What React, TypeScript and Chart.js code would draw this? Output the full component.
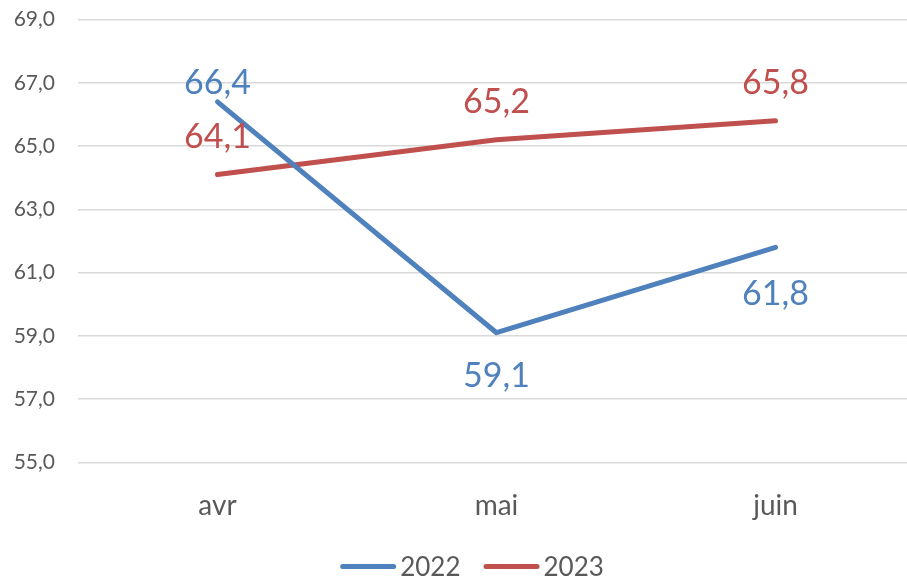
import React, { useEffect, useRef } from "react";
import { Chart, registerables } from "chart.js";

Chart.register(...registerables);

const categories = ["avr", "mai", "juin"];
const seriesNames = ["2022", "2023"];
const values2022 = [66.4, 59.1, 61.8];
const values2023 = [64.1, 65.2, 65.8];
const yTicks = [55, 57, 59, 61, 63, 65, 67, 69];

const BLUE = "#4F81BD";
const RED = "#C0504D";
const FONT = "Lato";
const SHIFT = 16;

const fmt = (v: number) => v.toFixed(1).replace(".", ",");

const dataLabelPlugin = {
  id: "dataLabels",
  afterDatasetsDraw(chart: any) {
    const ctx = chart.ctx;
    ctx.save();
    const size = 34;
    ctx.font = `${size}px ${FONT}`;
    ctx.textAlign = "center";
    ctx.textBaseline = "alphabetic";
    chart.data.datasets.forEach((ds: any, i: number) => {
      const meta = chart.getDatasetMeta(i);
      meta.data.forEach((pt: any, j: number) => {
        const off = ds.labelOffsets[j];
        ctx.fillStyle = ds.borderColor;
        ctx.fillText(fmt(ds.data[j]), pt.x, pt.y + off + size * 0.36);
      });
    });
    ctx.restore();
  },
};

const legendPlugin = {
  id: "customLegend",
  afterDraw(chart: any) {
    const ctx = chart.ctx;
    ctx.save();
    const size = 26;
    ctx.font = `${size}px ${FONT}`;
    const lineW = 56;
    const gapText = 4;
    const gapItem = 23;
    const items = chart.data.datasets.map((ds: any) => ({
      text: ds.label,
      color: ds.borderColor,
      w: lineW + gapText + ctx.measureText(ds.label).width,
    }));
    const total = items.reduce((a: number, it: any) => a + it.w, 0) + gapItem * (items.length - 1);
    const cx = 472;
    const cy = 566.5 + SHIFT;
    let x = cx - total / 2;
    items.forEach((it: any) => {
      ctx.strokeStyle = it.color;
      ctx.lineWidth = 5;
      ctx.lineCap = "round";
      ctx.beginPath();
      ctx.moveTo(x + 2.5, cy);
      ctx.lineTo(x + lineW - 2.5, cy);
      ctx.stroke();
      ctx.fillStyle = "#595959";
      ctx.textAlign = "left";
      ctx.textBaseline = "alphabetic";
      ctx.fillText(it.text, x + lineW + gapText, cy + size * 0.36);
      x += it.w + gapItem;
    });
    ctx.restore();
  },
};

export default function App() {
  const ref = useRef<HTMLCanvasElement>(null);
  useEffect(() => {
    document.body.style.margin = "0";
    document.body.style.overflow = "hidden";
    const canvas = ref.current!;
    const chart = new Chart(canvas, {
      type: "line",
      data: {
        labels: categories,
        datasets: [
          {
            label: seriesNames[0],
            data: values2022,
            borderColor: BLUE,
            backgroundColor: BLUE,
            borderWidth: 5,
            borderCapStyle: "round",
            borderJoinStyle: "round",
            pointRadius: 0,
            tension: 0,
            labelOffsets: [-20, 42, 45],
          } as any,
          {
            label: seriesNames[1],
            data: values2023,
            borderColor: RED,
            backgroundColor: RED,
            borderWidth: 5,
            borderCapStyle: "round",
            borderJoinStyle: "round",
            pointRadius: 0,
            tension: 0,
            labelOffsets: [-39, -39, -39],
          } as any,
        ],
      },
      options: {
        animation: false,
        responsive: false,
        layout: { padding: { left: 0, right: 0, top: 3, bottom: 37 } },
        plugins: {
          legend: { display: false },
          tooltip: { enabled: false },
        },
        scales: {
          x: {
            offset: true,
            grid: { display: false },
            border: { display: false },
            ticks: {
              color: "#595959",
              font: { family: FONT, size: 28 },
              padding: 19,
            },
          },
          y: {
            min: 55,
            max: 69,
            afterBuildTicks: (scale: any) => {
              scale.ticks = yTicks.map((v) => ({ value: v }));
            },
            afterFit: (scale: any) => {
              scale.width = 78;
            },
            grid: { color: "#d9d9d9", lineWidth: 1.5, drawTicks: false },
            border: { display: false },
            ticks: {
              color: "#595959",
              font: { family: FONT, size: 21 },
              padding: 23,
              callback: (v: any) => fmt(Number(v)),
            },
          },
        },
      },
      plugins: [dataLabelPlugin, legendPlugin],
    });
    return () => chart.destroy();
  }, []);
  return (
    <div style={{ width: 915, height: 579, overflow: "hidden" }}>
      <canvas
        ref={ref}
        width={915}
        height={579 + SHIFT}
        style={{ width: 915, height: 579 + SHIFT, display: "block", marginTop: -SHIFT }}
      />
    </div>
  );
}
